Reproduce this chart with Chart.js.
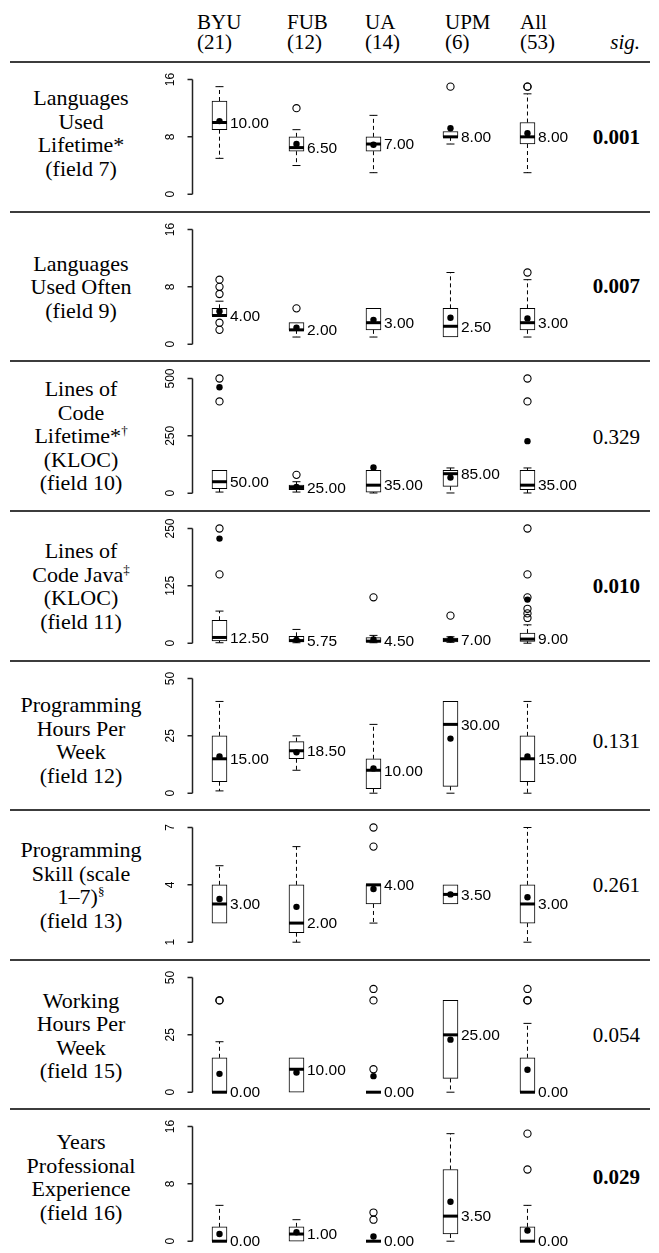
<!DOCTYPE html>
<html>
<head>
<meta charset="utf-8">
<script src="https://cdn.jsdelivr.net/npm/chart.js@4.4.1/dist/chart.umd.min.js"></script>
<style>
  html, body { margin: 0; padding: 0; background: #fff; }
  #page { position: relative; width: 659px; height: 1253px; overflow: hidden;
          font-family: "Liberation Serif", "Times New Roman", serif; color: #000; }
  .rule { position: absolute; left: 10px; width: 640px; height: 1.5px; background: #3c3c3c; z-index: 3; }
  .head { position: absolute; top: 12px; font-size: 21px; line-height: 20px; white-space: nowrap; }
  .sighead { position: absolute; top: 32px; right: 19px; font-size: 21px; line-height: 20px; font-style: italic; }
  .label { position: absolute; left: 0; width: 162px; text-align: center; font-size: 22px;
           line-height: 23.5px; transform: translateY(-50%); white-space: nowrap; }
  .label sup { font-size: 13px; line-height: 0; vertical-align: 8px; }
  .sig { position: absolute; right: 19px; font-size: 21px; transform: translateY(-50%); }
  .sig.b { font-weight: bold; }
  canvas.row { position: absolute; left: 140px; z-index: 1; }
</style>
</head>
<body>
<div id="page"></div>
<script>
// Groups compared in every row, with their sample sizes
const groupNames = ['BYU', 'FUB', 'UA', 'UPM', 'All'];
const groupSizes = [21, 12, 14, 6, 53];

// Row titles (one array of lines per row)
const rowTitles = [
  ['Languages', 'Used', 'Lifetime*', '(field 7)'],
  ['Languages', 'Used Often', '(field 9)'],
  ['Lines of', 'Code', 'Lifetime*<sup>†</sup>', '(KLOC)', '(field 10)'],
  ['Lines of', 'Code Java<sup>‡</sup>', '(KLOC)', '(field 11)'],
  ['Programming', 'Hours Per', 'Week', '(field 12)'],
  ['Programming', 'Skill (scale', '1–7)<sup>§</sup>', '(field 13)'],
  ['Working', 'Hours Per', 'Week', '(field 15)'],
  ['Years', 'Professional', 'Experience', '(field 16)']
];

// Significance column
const sigValues = ['0.001', '0.007', '0.329', '0.010', '0.131', '0.261', '0.054', '0.029'];
const sigBold = [true, true, false, true, false, false, false, true];

// Y-axis tick labels for each row
const yTicks = [
  [0, 8, 16], [0, 8, 16], [0, 250, 500], [0, 125, 250],
  [0, 25, 50], [1, 4, 7], [0, 25, 50], [0, 8, 16]
];

// Box-plot statistics, one row per field, columns BYU, FUB, UA, UPM, All
const whiskerLow = [
  [5, 4, 3, 7, 3],
  [4, 1, 1, 1, 1],
  [5, 5, 1, 1, 1],
  [1, 1, 1, 2, 0],
  [1, 10, 0, 0, 0],
  [2, 1, 2, 3, 1],
  [0, 0, 0, 0, 0],
  [0, 0, 0, 0, 0]
];
const quartile1 = [
  [9, 6, 6, 8, 7],
  [4, 2, 2, 1, 2],
  [20, 15, 5, 30, 15],
  [5, 3, 2, 3, 4],
  [5, 15, 2, 3, 5],
  [2, 1.5, 3, 3, 2],
  [0, 0, 0, 6, 0],
  [0, 0, 0, 1, 0]
];
const medians = [
  [10, 6.5, 7, 8, 8],
  [4, 2, 3, 2.5, 3],
  [50, 25, 35, 85, 35],
  [12.5, 5.75, 4.5, 7, 9],
  [15, 18.5, 10, 30, 15],
  [3, 2, 4, 3.5, 3],
  [0, 10, 0, 25, 0],
  [0, 1, 0, 3.5, 0]
];
const quartile3 = [
  [13, 8, 8, 8.75, 10],
  [5, 3, 5, 5, 5],
  [100, 35, 100, 100, 100],
  [50, 15, 12, 11, 22],
  [25, 22.5, 15, 40, 25],
  [4, 4, 4, 4, 4],
  [15, 15, 0, 40, 15],
  [2, 2, 0, 10, 2]
];
const whiskerHigh = [
  [15, 9, 11, 8.75, 14],
  [6, 3, 5, 10, 9],
  [100, 50, 100, 110, 110],
  [70, 30, 17, 14, 40],
  [40, 25, 30, 40, 40],
  [5, 6, 4, 4, 7],
  [22, 15, 0, 40, 30],
  [5, 3, 0, 15, 5]
];
const means = [
  [10.2, 7.0, 6.9, 9.2, 8.5],
  [4.6, 2.3, 3.4, 3.7, 3.6],
  [462, 27, 112, 68, 227],
  [228, 7.3, 8, 8.7, 95],
  [16, 17.8, 10.8, 23.8, 16],
  [3.26, 2.85, 3.78, 3.5, 3.35],
  [8, 8.6, 7, 22.9, 9.8],
  [1.0, 1.25, 0.65, 5.5, 1.5]
];
const outliers = [
  [[], [12], [], [15], [15, 15]],
  [[2, 3, 7, 8, 9], [5], [], [], [10]],
  [[400, 500], [80], [], [], [400, 500]],
  [[150, 250], [], [100], [60], [55, 65, 75, 100, 150, 250]],
  [[], [], [], [], []],
  [[], [], [6, 7], [], []],
  [[40, 40], [], [10, 40, 45], [], [40, 40, 45]],
  [[], [], [3, 4], [], [10, 15]]
];

// ---- page layout ----
const page = document.getElementById('page');
const ruleY = [62, 212, 361, 511, 661, 810, 960, 1109];
const labelMid = [133, 286.5, 436, 586, 740, 885, 1035.5, 1177];
const sigMid = [137, 286, 437, 586, 741, 885, 1035, 1177];
const headLeft = [197, 287, 365, 445, 520];
const canvasH = 150;
const boxWidth = 15;

groupNames.forEach((g, i) => {
  const d = document.createElement('div');
  d.className = 'head';
  d.style.left = headLeft[i] + 'px';
  d.innerHTML = g + '<br>(' + groupSizes[i] + ')';
  page.appendChild(d);
});
const sh = document.createElement('div');
sh.className = 'sighead';
sh.textContent = 'sig.';
page.appendChild(sh);

ruleY.forEach(y => {
  const r = document.createElement('div');
  r.className = 'rule';
  r.style.top = (y - 0.75) + 'px';
  page.appendChild(r);
});

const measureCtx = document.createElement('canvas').getContext('2d');
const tickFont = { family: 'Liberation Sans, Arial, sans-serif', size: 12 };
measureCtx.font = '12px "Liberation Sans", Arial, sans-serif';

// Axis spine with outward tick marks, spanning the first to the last tick
const axisSpine = {
  id: 'axisSpine',
  afterDraw(chart) {
    const ys = chart.scales.y;
    const ctx = chart.ctx;
    const x = Math.round(ys.right) + 0.5;
    const vals = ys.ticks.map(t => t.value);
    ctx.save();
    ctx.strokeStyle = '#222';
    ctx.lineWidth = 1.5;
    ctx.beginPath();
    ctx.moveTo(x, ys.getPixelForValue(vals[0]));
    ctx.lineTo(x, ys.getPixelForValue(vals[vals.length - 1]));
    vals.forEach(v => {
      const p = ys.getPixelForValue(v);
      ctx.moveTo(x, p);
      ctx.lineTo(x - 5, p);
    });
    ctx.stroke();
    ctx.restore();
  }
};

// Draws whiskers, caps and medians right after the boxes, then the median values
const boxplotExtras = {
  id: 'boxplotExtras',
  afterDatasetDraw(chart, args, opts) {
    if (args.index !== 0) return;
    const r = opts.row;
    const ctx = chart.ctx;
    const xs = chart.scales.x, ys = chart.scales.y;
    ctx.save();
    ctx.strokeStyle = '#000';
    for (let i = 0; i < groupNames.length; i++) {
      const cx = xs.getPixelForValue(i + 1);
      const pLo = ys.getPixelForValue(whiskerLow[r][i]);
      const pHi = ys.getPixelForValue(whiskerHigh[r][i]);
      const pQ1 = ys.getPixelForValue(quartile1[r][i]);
      const pQ3 = ys.getPixelForValue(quartile3[r][i]);
      const pMed = ys.getPixelForValue(medians[r][i]);
      ctx.lineWidth = 1;
      ctx.setLineDash([4, 3]);
      ctx.beginPath();
      if (whiskerHigh[r][i] > quartile3[r][i]) { ctx.moveTo(cx, pQ3); ctx.lineTo(cx, pHi); }
      if (whiskerLow[r][i] < quartile1[r][i]) { ctx.moveTo(cx, pQ1); ctx.lineTo(cx, pLo); }
      ctx.stroke();
      ctx.setLineDash([]);
      ctx.beginPath();
      if (whiskerHigh[r][i] > quartile3[r][i]) { ctx.moveTo(cx - 4, pHi); ctx.lineTo(cx + 4, pHi); }
      if (whiskerLow[r][i] < quartile1[r][i]) { ctx.moveTo(cx - 4, pLo); ctx.lineTo(cx + 4, pLo); }
      ctx.stroke();
      ctx.lineWidth = 3;
      ctx.beginPath();
      ctx.moveTo(cx - boxWidth / 2, pMed);
      ctx.lineTo(cx + boxWidth / 2, pMed);
      ctx.stroke();
    }
    ctx.restore();
  },
  afterDatasetsDraw(chart, args, opts) {
    const r = opts.row;
    const ctx = chart.ctx;
    const xs = chart.scales.x, ys = chart.scales.y;
    ctx.save();
    ctx.fillStyle = '#000';
    ctx.font = '15.5px "Liberation Sans", Arial, sans-serif';
    ctx.textAlign = 'left';
    ctx.textBaseline = 'middle';
    for (let i = 0; i < groupNames.length; i++) {
      const cx = xs.getPixelForValue(i + 1);
      const pMed = ys.getPixelForValue(medians[r][i]);
      ctx.fillText(medians[r][i].toFixed(2), cx + boxWidth / 2 + 3, pMed + 1);
    }
    ctx.restore();
  }
};

rowTitles.forEach((lines, r) => {
  const top = ruleY[r];

  const lab = document.createElement('div');
  lab.className = 'label';
  lab.style.top = labelMid[r] + 'px';
  lab.innerHTML = lines.join('<br>');
  page.appendChild(lab);

  const s = document.createElement('div');
  s.className = 'sig' + (sigBold[r] ? ' b' : '');
  s.style.top = sigMid[r] + 'px';
  s.textContent = sigValues[r];
  page.appendChild(s);

  const cv = document.createElement('canvas');
  cv.className = 'row';
  cv.width = 460;
  cv.height = canvasH;
  cv.style.top = top + 'px';
  page.appendChild(cv);

  const ticks = yTicks[r];
  const widest = Math.max(...ticks.map(v => measureCtx.measureText(String(v)).width));
  const tickPad = 21 - widest / 2;

  const boxData = groupNames.map((g, i) => ({ x: i + 1, y: [quartile1[r][i], quartile3[r][i]] }));
  const meanData = groupNames.map((g, i) => ({ x: i + 1, y: means[r][i] }));
  const outData = [];
  outliers[r].forEach((vals, i) => vals.forEach(v => outData.push({ x: i + 1, y: v })));

  new Chart(cv, {
    type: 'bar',
    data: {
      datasets: [
        { type: 'bar', data: boxData, backgroundColor: '#fff', borderColor: '#000',
          borderWidth: 1, borderSkipped: false, barThickness: boxWidth, order: 3, clip: false },
        { type: 'scatter', data: outData, pointRadius: 3.6, pointStyle: 'circle',
          backgroundColor: 'rgba(255,255,255,0)', borderColor: '#000', borderWidth: 1.1, order: 1, clip: false },
        { type: 'scatter', data: meanData, pointRadius: 3.2, pointStyle: 'circle',
          backgroundColor: '#000', borderColor: '#000', borderWidth: 0, order: 0, clip: false }
      ]
    },
    options: {
      responsive: false,
      animation: false,
      events: [],
      devicePixelRatio: 1,
      layout: { autoPadding: false, padding: { top: 17.5, bottom: 17.8, left: 0, right: 0 } },
      plugins: {
        legend: { display: false },
        tooltip: { enabled: false },
        boxplotExtras: { row: r }
      },
      scales: {
        x: { type: 'linear', min: 0.643, max: 5.942, display: false, offset: false, grid: { offset: false } },
        y: {
          type: 'linear',
          min: ticks[0],
          max: ticks[ticks.length - 1],
          afterBuildTicks: sc => { sc.ticks = ticks.map(v => ({ value: v })); },
          afterFit: sc => { sc.width = 52; sc.paddingTop = 0; sc.paddingBottom = 0; },
          grid: { display: false, drawTicks: false, tickLength: 0 },
          border: { display: false },
          ticks: {
            font: tickFont, color: '#000', minRotation: 90, maxRotation: 90,
            crossAlign: 'center', padding: tickPad, callback: v => String(v)
          }
        }
      }
    },
    plugins: [axisSpine, boxplotExtras]
  });
});
</script>
</body>
</html>
